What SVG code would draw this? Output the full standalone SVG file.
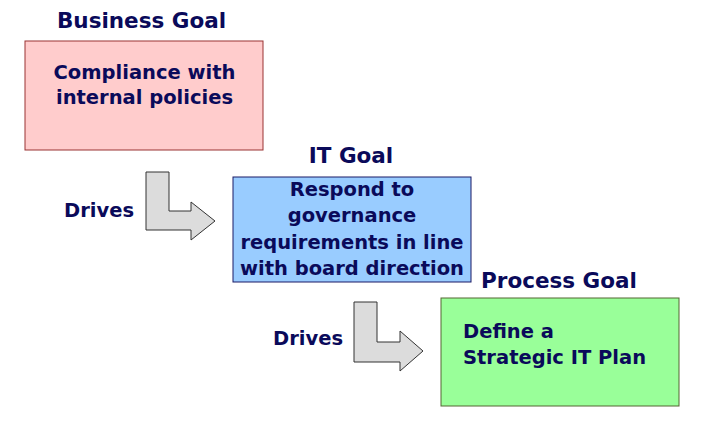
<svg xmlns="http://www.w3.org/2000/svg" width="704" height="428" viewBox="0 0 704 428">
<style>
.t{font-family:"DejaVu Sans",Verdana,sans-serif;font-weight:bold;fill:#0a0a5a;}
.h{font-size:21.5px;}
.b{font-size:19.5px;}
.arr{fill:#dcdcdc;stroke:#333;stroke-width:1;}
</style>
<rect width="704" height="428" fill="#fff"/>
<g id="business-goal">
<text class="t h" x="141.5" y="28" text-anchor="middle">Business Goal</text>
<rect x="25" y="41" width="238" height="109" fill="#ffcccc" stroke="#993333" stroke-width="1"/>
<text class="t b" x="144.5" y="79" text-anchor="middle">Compliance with</text>
<text class="t b" x="144.5" y="104" text-anchor="middle">internal policies</text>
</g>
<g id="it-goal">
<text class="t h" x="351" y="163" text-anchor="middle">IT Goal</text>
<rect x="233" y="177" width="238" height="105" fill="#99ccff" stroke="#1a1a66" stroke-width="1"/>
<text class="t b" x="352" y="196" text-anchor="middle">Respond to</text>
<text class="t b" x="352" y="222" text-anchor="middle">governance</text>
<text class="t b" x="352" y="249" text-anchor="middle">requirements in line</text>
<text class="t b" x="352" y="275" text-anchor="middle">with board direction</text>
</g>
<g id="process-goal">
<text class="t h" x="559" y="288" text-anchor="middle">Process Goal</text>
<rect x="441" y="298" width="238" height="108" fill="#99ff99" stroke="#556633" stroke-width="1"/>
<text class="t b" x="463" y="338">Define a</text>
<text class="t b" x="463" y="364">Strategic IT Plan</text>
</g>
<g id="connectors">
<path class="arr" d="M146,172 H169 V211 H191 V202 L215,221 L191,240 V230 H146 Z"/>
<text class="t b" x="99" y="217" text-anchor="middle">Drives</text>
<path class="arr" d="M354,302 H377 V342 H400 V331 L423,351 L400,371 V362 H354 Z"/>
<text class="t b" x="308" y="345" text-anchor="middle">Drives</text>
</g>
</svg>
